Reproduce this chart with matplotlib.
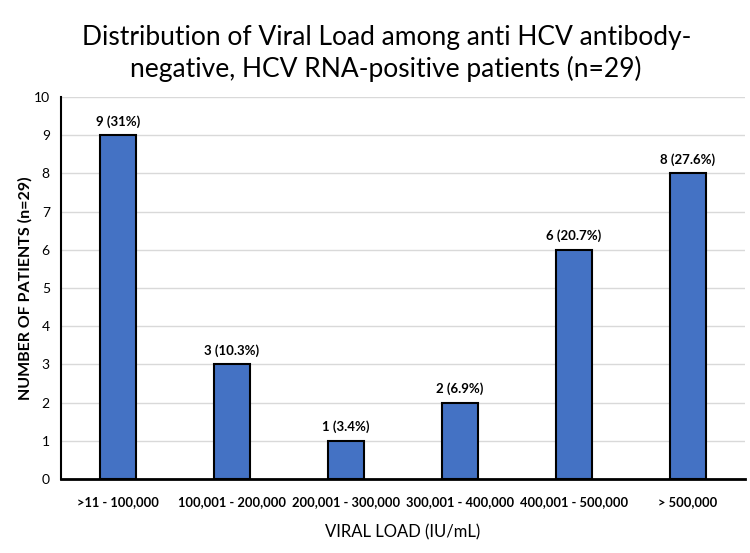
import matplotlib
matplotlib.use("Agg")
import matplotlib.pyplot as plt
import numpy as np

categories = [">11 - 100,000", "100,001 - 200,000", "200,001 - 300,000",
              "300,001 - 400,000", "400,001 - 500,000", "> 500,000"]
patients = [9, 3, 1, 2, 6, 8]
bar_labels = ["9 (31%)", "3 (10.3%)", "1 (3.4%)", "2 (6.9%)", "6 (20.7%)", "8 (27.6%)"]

plt.rcParams['font.family'] = ['Lato', 'DejaVu Sans']

fig = plt.figure(figsize=(7.5, 5.53), dpi=100)
ax = fig.add_axes([0.0813, 0.1338, 0.912, 0.6908])

x = np.arange(len(categories))
ax.bar(x, patients, width=0.32, color="#4472C4", edgecolor="black", linewidth=1.5, zorder=3)
for xi, v, lab in zip(x, patients, bar_labels):
    ax.text(xi, v + 0.2, lab, ha="center", va="bottom", fontsize=9.5, fontweight="bold")

ax.set_xlim(-0.5, len(categories) - 0.5)
ax.set_ylim(0, 10)
ax.set_yticks(range(0, 11))
ax.set_xticks(x)
ax.set_xticklabels(categories, fontsize=9.3, fontweight="bold")
ax.tick_params(axis="both", length=0)
ax.tick_params(axis="x", pad=12)
ax.tick_params(axis="y", labelsize=10, pad=8)
ax.grid(axis="y", color="#d9d9d9", linewidth=1, zorder=0)
for s in ["top", "right"]:
    ax.spines[s].set_visible(False)
ax.spines["left"].set_linewidth(1.5)
ax.spines["bottom"].set_linewidth(2)

ax.set_ylabel("NUMBER OF PATIENTS (n=29)", fontsize=11.5, fontweight="bold", labelpad=1)
ax.set_xlabel("VIRAL LOAD (IU/mL)", fontsize=12, labelpad=12)

fig.suptitle("Distribution of Viral Load among anti HCV antibody-\nnegative, HCV RNA-positive patients (n=29)",
             x=0.515, y=0.955, fontsize=19, linespacing=1.3)

fig.savefig("out.png", dpi=100)
